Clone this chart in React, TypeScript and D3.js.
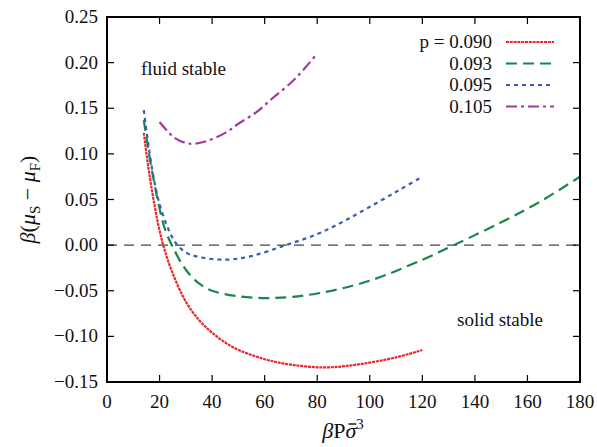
import React, { useRef, useEffect } from "react";
import * as d3 from "d3";

type Pt = [number, number];

const curve090: Pt[] = [[14,0.123],[16,0.08],[18,0.045],[20,0.016],[22,-0.006],[25,-0.031],[30,-0.062],[35,-0.082],[40,-0.096],[48,-0.112],[60,-0.125],[70,-0.131],[83,-0.134],[95,-0.131],[110,-0.123],[120,-0.115]];
const curve093: Pt[] = [[14,0.137],[16,0.1],[18,0.068],[20,0.04],[22,0.018],[25,-0.002],[30,-0.027],[35,-0.042],[40,-0.05],[50,-0.056],[63,-0.058],[80,-0.053],[100,-0.039],[120,-0.016],[132,0],[150,0.025],[165,0.048],[180,0.075]];
const curve095: Pt[] = [[14,0.148],[16,0.105],[18,0.07],[20,0.045],[23,0.02],[26,0.003],[30,-0.008],[35,-0.013],[45,-0.016],[55,-0.012],[68,0],[80,0.012],[90,0.026],[100,0.042],[111,0.06],[120,0.075]];
const curve105: Pt[] = [[20,0.135],[23,0.125],[26,0.117],[30,0.112],[33,0.111],[38,0.114],[45,0.123],[50,0.133],[57,0.146],[63,0.161],[70,0.178],[75,0.193],[80,0.21]];

const seriesLabels = ["p = 0.090", "0.093", "0.095", "0.105"];
const seriesData = [curve090, curve093, curve095, curve105];
const seriesColors = ["#e8262c", "#17874a", "#3b5bb5", "#a23a9e"];
const seriesDash = ["3,0.8", "11,6", "4,4", "11,4,3,4"];

const xTicks = [0, 20, 40, 60, 80, 100, 120, 140, 160, 180];
const yTicks = [-0.15, -0.1, -0.05, 0, 0.05, 0.1, 0.15, 0.2, 0.25];

const FONT = "'Liberation Serif', 'DejaVu Serif', serif";

const App = () => {
  const svgRef = useRef<SVGSVGElement>(null);

  useEffect(() => {
    const svg = d3.select(svgRef.current);
    svg.selectAll("*").remove();
    const width = 597, height = 447;
    const m = { left: 107, right: 17, top: 17, bottom: 65 };

    const x = d3.scaleLinear().domain([0, 180]).range([m.left, width - m.right]);
    const y = d3.scaleLinear().domain([-0.15, 0.25]).range([height - m.bottom, m.top]);

    // zero line
    svg.append("line")
      .attr("x1", x(0)).attr("x2", x(180))
      .attr("y1", y(0)).attr("y2", y(0))
      .attr("stroke", "#444").attr("stroke-width", 1.2)
      .attr("stroke-dasharray", "10,7");

    const line = d3.line<Pt>().x(d => x(d[0])).y(d => y(d[1])).curve(d3.curveCatmullRom.alpha(0.5));

    seriesData.forEach((data, i) => {
      svg.append("path")
        .attr("d", line(data))
        .attr("fill", "none")
        .attr("stroke", seriesColors[i])
        .attr("stroke-width", 2.2)
        .attr("stroke-dasharray", seriesDash[i]);
    });

    const tl = 7;
    // ticks (inward, all sides)
    const tg = svg.append("g").attr("stroke", "#000").attr("stroke-width", 1.2);
    xTicks.forEach(t => {
      tg.append("line").attr("x1", x(t)).attr("x2", x(t)).attr("y1", y(-0.15)).attr("y2", y(-0.15) - tl);
      tg.append("line").attr("x1", x(t)).attr("x2", x(t)).attr("y1", y(0.25)).attr("y2", y(0.25) + tl);
    });
    yTicks.forEach(t => {
      tg.append("line").attr("x1", x(0)).attr("x2", x(0) + tl).attr("y1", y(t)).attr("y2", y(t));
      tg.append("line").attr("x1", x(180)).attr("x2", x(180) - tl).attr("y1", y(t)).attr("y2", y(t));
    });

    // frame
    svg.append("rect")
      .attr("x", x(0)).attr("y", y(0.25))
      .attr("width", x(180) - x(0)).attr("height", y(-0.15) - y(0.25))
      .attr("fill", "none").attr("stroke", "#000").attr("stroke-width", 2);

    const txt = (sel: any) => sel.attr("font-family", FONT).attr("fill", "#111");

    // tick labels
    xTicks.forEach(t => {
      svg.append("text")
        .attr("x", x(t)).attr("y", y(-0.15) + 26)
        .attr("text-anchor", "middle")
        .call(txt).attr("font-size", 19)
        .text(String(t));
    });
    const fmt = d3.format(".2f");
    yTicks.forEach(t => {
      svg.append("text")
        .attr("x", x(0) - 9).attr("y", y(t) + 6)
        .attr("text-anchor", "end")
        .call(txt).attr("font-size", 19)
        .text(fmt(t).replace("-", "\u2212"));
    });

    // x axis label
    const xl = svg.append("text")
      .attr("x", 343).attr("y", 438)
      .attr("text-anchor", "middle")
      .call(txt).attr("font-size", 22);
    xl.append("tspan").attr("font-style", "italic").text("β");
    xl.append("tspan").text("P");
    xl.append("tspan").attr("font-style", "italic").text("σ");
    xl.append("tspan").attr("dy", -9).attr("font-size", 15).text("3");
    const xn = xl.node() as SVGTextElement;
    try {
      const ext = xn.getExtentOfChar(2);
      svg.append("line")
        .attr("x1", ext.x + 3).attr("x2", ext.x + ext.width)
        .attr("y1", ext.y + 6).attr("y2", ext.y + 6)
        .attr("stroke", "#111").attr("stroke-width", 1.4);
    } catch (e) { /* ignore */ }

    // y axis label
    const yl = svg.append("text")
      .attr("transform", `translate(35,${(y(0.25) + y(-0.15)) / 2}) rotate(-90)`)
      .attr("text-anchor", "middle")
      .call(txt).attr("font-size", 22);
    yl.append("tspan").attr("font-style", "italic").text("β");
    yl.append("tspan").text("(");
    yl.append("tspan").attr("font-style", "italic").text("μ");
    yl.append("tspan").attr("dy", 5).attr("font-size", 15).text("S");
    yl.append("tspan").attr("dy", -5).text(" − ");
    yl.append("tspan").attr("font-style", "italic").text("μ");
    yl.append("tspan").attr("dy", 5).attr("font-size", 15).text("F");
    yl.append("tspan").attr("dy", -5).text(")");

    // annotations
    svg.append("text").attr("x", 141).attr("y", 75)
      .call(txt).attr("font-size", 19).text("fluid stable");
    svg.append("text").attr("x", 457).attr("y", 326)
      .call(txt).attr("font-size", 19).text("solid stable");

    // legend
    seriesLabels.forEach((lab, i) => {
      const ly = 42 + i * 21.5;
      svg.append("text")
        .attr("x", 492).attr("y", ly + 6)
        .attr("text-anchor", "end")
        .call(txt).attr("font-size", 19)
        .text(lab);
      svg.append("line")
        .attr("x1", 506).attr("x2", 554).attr("y1", ly).attr("y2", ly)
        .attr("stroke", seriesColors[i]).attr("stroke-width", 2.2)
        .attr("stroke-dasharray", seriesDash[i]);
    });
  }, []);

  return (
    <svg ref={svgRef} width={597} height={447} style={{ position: "absolute", left: 0, top: 0, background: "#fff" }} />
  );
};

export default App;
